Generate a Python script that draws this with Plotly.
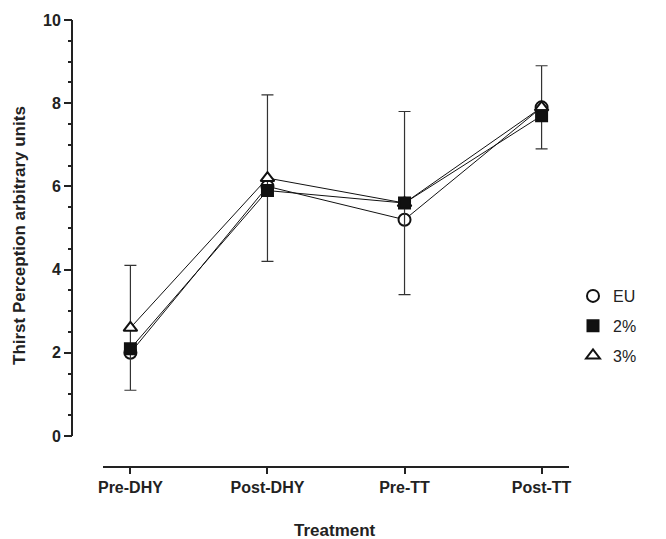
import plotly.graph_objects as go

categories = ["Pre-DHY", "Post-DHY", "Pre-TT", "Post-TT"]
eu_vals = [2.0, 6.0, 5.2, 7.9]
pct2_vals = [2.1, 5.9, 5.6, 7.7]
pct3_vals = [2.6, 6.2, 5.6, 7.9]
pct3_err = [1.5, 2.0, 2.2, 1.0]
y_ticks = [0, 2, 4, 6, 8, 10]
y_minor = [0.5, 1, 1.5, 2.5, 3, 3.5, 4.5, 5, 5.5, 6.5, 7, 7.5, 8.5, 9, 9.5]

W, H = 666, 539
L, R, T, B = 72, 97, 20, 73
plot_w = W - L - R
plot_h = H - T - B
FONT = "Arial, Liberation Sans, sans-serif"
x_idx = list(range(len(categories)))

fig = go.Figure()

series = [
    ("EU", eu_vals, "circle", "white", None),
    ("3%", pct3_vals, "triangle-up", "white", pct3_err),
    ("2%", pct2_vals, "square", "#111", None),
]
for name, vals, sym, fill, err in series:
    fig.add_trace(go.Scatter(
        x=x_idx, y=vals, mode="lines+markers", name=name, showlegend=False,
        line=dict(color="#111", width=1),
        marker=dict(symbol=sym, size=12 if sym != "square" else 11, color=fill,
                    line=dict(color="#111", width=2)),
        error_y=dict(type="data", array=err, visible=True, color="#333",
                     thickness=1.2, width=6) if err else None,
        cliponaxis=False,
    ))

# legend-only entries (markers without lines)
for name, sym, fill in [("EU", "circle", "white"), ("2%", "square", "#111"), ("3%", "triangle-up", "white")]:
    fig.add_trace(go.Scatter(
        x=[None], y=[None], mode="markers", name=name, legendgroup=name,
        marker=dict(symbol=sym, size=12 if sym != "square" else 11, color=fill,
                    line=dict(color="#111", width=2)),
    ))

fig.add_shape(type="line", xref="paper", yref="y", x0=0, x1=0, y0=0, y1=10,
              line=dict(color="#222", width=2))

fig.update_layout(
    width=W, height=H,
    margin=dict(l=L, r=R, t=T, b=B, autoexpand=False),
    plot_bgcolor="white", paper_bgcolor="white",
    font=dict(family=FONT, color="#222"),
    showlegend=True,
    legend=dict(x=(573 - L) / plot_w, y=(H - B - 279) / plot_h, xanchor="left", yanchor="top",
                font=dict(size=16, family=FONT, color="#222"),
                tracegroupgap=6, traceorder="grouped", itemwidth=30,
                bgcolor="rgba(0,0,0,0)"),
    xaxis=dict(
        domain=[(103 - L) / plot_w, 1],
        range=[-0.2, 3.2], tickmode="array", tickvals=x_idx, ticktext=categories,
        showline=True, linecolor="#222", linewidth=2,
        ticks="outside", ticklen=6, tickwidth=2, tickcolor="#222",
        tickfont=dict(size=16, family=FONT, color="#222", weight="bold"),
        showgrid=False, zeroline=False, automargin=False, anchor="y",
    ),
    yaxis=dict(
        range=[-30 / 41.6, 10], tickmode="array", tickvals=y_ticks,
        ticks="outside", ticklen=8, tickwidth=2, tickcolor="#222",
        minor=dict(tickvals=y_minor, ticks="outside", ticklen=4, tickwidth=2, tickcolor="#222", showgrid=False),
        tickfont=dict(size=16, family=FONT, color="#222", weight="bold"),
        showline=False, showgrid=False, zeroline=False, automargin=False,
        anchor="free", position=0,
    ),
    annotations=[
        dict(text="Thirst Perception arbitrary units", xref="paper", yref="paper",
             x=(20 - L) / plot_w, y=(H - B - 236) / plot_h, textangle=-90,
             showarrow=False, xanchor="center", yanchor="middle",
             font=dict(size=17, family=FONT, color="#222", weight="bold")),
        dict(text="Treatment", xref="paper", yref="paper",
             x=(335 - L) / plot_w, y=(H - B - 530) / plot_h,
             showarrow=False, xanchor="center", yanchor="middle",
             font=dict(size=17, family=FONT, color="#222", weight="bold")),
    ],
)

fig.write_html("out.html")
